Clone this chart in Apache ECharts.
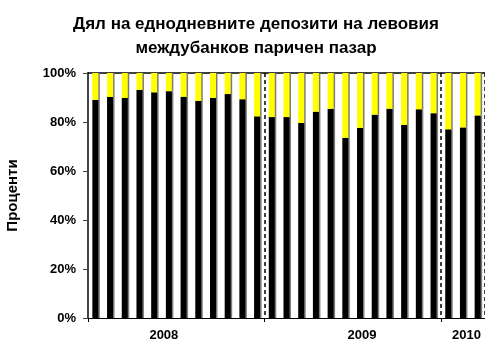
<!DOCTYPE html>
<html>
<head>
<meta charset="utf-8">
<script src="https://cdn.jsdelivr.net/npm/echarts@6/dist/echarts.min.js"></script>
<style>
html,body{margin:0;padding:0;background:#fff;}
#chart{width:485px;height:345px;}
</style>
</head>
<body>
<div id="chart"></div>
<script>
// Months Jan 2008 .. Mar 2010
const categories = [
  '2008-01','2008-02','2008-03','2008-04','2008-05','2008-06','2008-07','2008-08','2008-09','2008-10','2008-11','2008-12',
  '2009-01','2009-02','2009-03','2009-04','2009-05','2009-06','2009-07','2009-08','2009-09','2009-10','2009-11','2009-12',
  '2010-01','2010-02','2010-03'
];
// Share of overnight deposits (black), %
const overnightShare = [
  89.0, 90.2, 89.8, 93.1, 92.1, 92.6, 90.3, 88.6, 89.8, 91.4, 89.3, 82.3,
  82.0, 82.0, 79.6, 84.2, 85.4, 73.5, 77.6, 83.0, 85.4, 78.8, 85.2, 83.6,
  77.0, 77.8, 82.7
];
// Remaining share (yellow), %
const otherShare = [
  11.0, 9.8, 10.2, 6.9, 7.9, 7.4, 9.7, 11.4, 10.2, 8.6, 10.7, 17.7,
  18.0, 18.0, 20.4, 15.8, 14.6, 26.5, 22.4, 17.0, 14.6, 21.2, 14.8, 16.4,
  23.0, 22.2, 17.3
];
// Year labels and the month index each is shown under
const yearLabels = {5: '2008', 18: '2009', 25: '2010'};
const yearBoundaries = [0, 12, 24];
const yTicks = [0, 20, 40, 60, 80, 100];

const FONT = 'Liberation Sans, Arial, sans-serif';
const chart = echarts.init(document.getElementById('chart'), null, {renderer: 'canvas'});

const barStyle = (color) => ({
  color: color,
  shadowColor: 'rgba(110,110,110,0.9)',
  shadowOffsetX: 1.5,
  shadowOffsetY: 0,
  shadowBlur: 0
});

chart.setOption({
  animation: false,
  backgroundColor: '#fff',
  title: {
    text: 'Дял на еднодневните депозити на левовия\nмеждубанков паричен пазар',
    left: 251,
    textAlign: 'center',
    top: 7,
    textStyle: {fontFamily: FONT, fontWeight: 'bold', fontSize: 17, lineHeight: 24, color: '#000'}
  },
  grid: {left: 88, right: 0, top: 73, bottom: 27, containLabel: false, outerBoundsMode: 'none'},
  xAxis: [{
    type: 'category',
    data: categories,
    boundaryGap: true,
    axisLine: {show: true, lineStyle: {color: '#000', width: 1}},
    axisTick: {
      show: true, length: 4,
      interval: (i) => yearBoundaries.includes(i),
      lineStyle: {color: '#000', width: 1}
    },
    splitLine: {
      show: true,
      interval: (i) => i === 12 || i === 24,
      lineStyle: {color: '#000', width: 1.5, type: [4, 3]}
    },
    axisLabel: {
      interval: (i) => yearLabels[i] !== undefined,
      margin: 11,
      formatter: (v, i) => {
        const y = yearLabels[i];
        if (!y) return '';
        return '{y' + y + '|' + y + '}';
      },
      rich: {
        y2008: {fontFamily: FONT, fontWeight: 'bold', fontSize: 13, color: '#000', padding: [0, 10, 0, 0]},
        y2009: {fontFamily: FONT, fontWeight: 'bold', fontSize: 13, color: '#000', padding: [0, 0, 0, 4]},
        y2010: {fontFamily: FONT, fontWeight: 'bold', fontSize: 13, color: '#000', padding: [0, 0, 0, 7]}
      }
    }
  }, {
    type: 'category',
    data: categories,
    position: 'top',
    axisLine: {show: true, lineStyle: {color: '#000', width: 1.5}},
    axisTick: {show: false},
    axisLabel: {show: false},
    splitLine: {show: false}
  }],
  yAxis: {
    type: 'value',
    min: yTicks[0],
    max: yTicks[yTicks.length - 1],
    interval: 20,
    name: 'Проценти',
    nameLocation: 'middle',
    nameRotate: 90,
    nameGap: 68,
    nameTextStyle: {fontFamily: FONT, fontWeight: 'bold', fontSize: 15, color: '#000'},
    axisLine: {show: true, lineStyle: {color: '#444', width: 2}},
    axisTick: {show: true, length: 5, lineStyle: {color: '#444', width: 1}},
    splitLine: {show: false},
    axisLabel: {
      formatter: '{value}%',
      margin: 12,
      fontFamily: FONT, fontWeight: 'bold', fontSize: 13, color: '#000'
    }
  },
  series: [{
    name: 'Еднодневни',
    type: 'bar',
    stack: 'total',
    data: overnightShare,
    barWidth: 6,
    itemStyle: barStyle('#000000')
  }, {
    name: 'Други',
    type: 'bar',
    stack: 'total',
    data: otherShare,
    barWidth: 6,
    itemStyle: barStyle('#FFFF00')
  }]
});
</script>
</body>
</html>
